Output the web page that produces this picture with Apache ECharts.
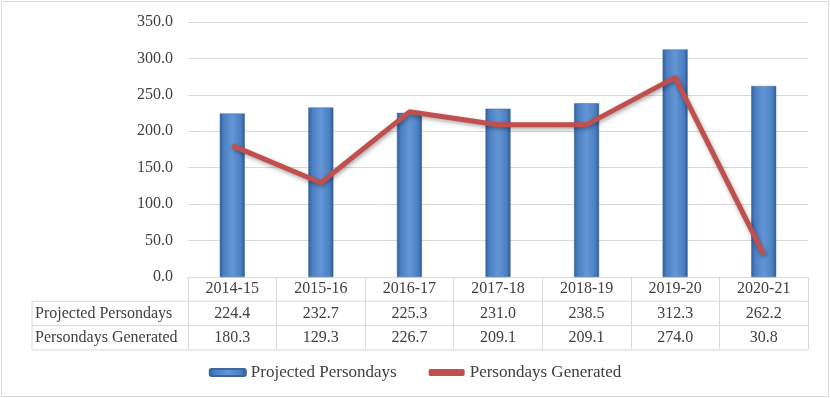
<!DOCTYPE html>
<html>
<head>
<meta charset="utf-8">
<script src="https://cdn.jsdelivr.net/npm/echarts@6/dist/echarts.min.js"></script>
<style>
  html, body { margin: 0; padding: 0; background: #fff; }
  #main { width: 830px; height: 398px; }
</style>
</head>
<body>
<div id="main"></div>
<script>
var years = ['2014-15', '2015-16', '2016-17', '2017-18', '2018-19', '2019-20', '2020-21'];
var projected = [224.4, 232.7, 225.3, 231.0, 238.5, 312.3, 262.2];
var generated = [180.3, 129.3, 226.7, 209.1, 209.1, 274.0, 30.8];
var yTicks = [0, 350, 50];

var FONT = 'Liberation Serif';
var FS = 16;
var TXT = '#404040';
var LINE = '#d9d9d9';

// table geometry (left header col + three rows under the plot)
var gLeft = 188, gRight = 808, gBottom = 277;
var rowH = 24.3, tblLeft = 32;

var myChart = echarts.init(document.getElementById('main'));

var graphics = [{
    type: 'rect',
    shape: { x: 1.5, y: 1.5, width: 827, height: 395 },
    style: { fill: 'none', stroke: LINE, lineWidth: 1 }
}];
// horizontal rules of the table
for (var r = 1; r <= 3; r++) {
    graphics.push({
        type: 'line',
        shape: { x1: tblLeft, y1: gBottom + rowH * r, x2: gRight, y2: gBottom + rowH * r },
        style: { stroke: LINE, lineWidth: 1 }
    });
}
graphics.push({
    type: 'line',
    shape: { x1: tblLeft, y1: gBottom + rowH, x2: tblLeft, y2: gBottom + rowH * 3 },
    style: { stroke: LINE, lineWidth: 1 }
});
var rowNames = ['Projected Persondays', 'Persondays Generated'];
rowNames.forEach(function(n, i) {
    graphics.push({
        type: 'text',
        x: tblLeft + 3,
        y: gBottom + rowH * (i + 1.5),
        style: { text: n, fontFamily: FONT, fontSize: FS, fill: TXT, verticalAlign: 'middle' }
    });
});

myChart.setOption({
    animation: false,
    textStyle: { fontFamily: FONT },
    grid: {
        left: gLeft,
        right: 830 - gRight,
        top: 22,
        bottom: 398 - gBottom
    },
    legend: {
        bottom: 12,
        left: 'center',
        itemGap: 32,
        itemWidth: 36,
        itemHeight: 7,
        textStyle: { fontFamily: FONT, fontSize: 17, color: TXT },
        data: [
            { name: 'Projected Persondays' },
            { name: 'Persondays Generated', icon: 'roundRect', itemStyle: { color: '#c0504d' } }
        ]
    },
    xAxis: {
        type: 'category',
        data: years,
        axisLine: { lineStyle: { color: LINE } },
        axisTick: { show: true, length: rowH * 3, lineStyle: { color: LINE } },
        axisLabel: {
            margin: 0,
            interval: 0,
            color: TXT,
            fontFamily: FONT,
            fontSize: FS,
            lineHeight: rowH,
            formatter: function(v, i) {
                return v + '\n' + projected[i].toFixed(1) + '\n' + generated[i].toFixed(1);
            }
        }
    },
    yAxis: {
        type: 'value',
        min: yTicks[0],
        max: yTicks[1],
        interval: yTicks[2],
        axisLine: { show: false },
        axisTick: { show: false },
        splitLine: { lineStyle: { color: LINE } },
        axisLabel: {
            margin: 15,
            color: TXT,
            fontFamily: FONT,
            fontSize: FS,
            formatter: function(v) { return v.toFixed(1); }
        }
    },
    series: [{
        name: 'Projected Persondays',
        type: 'bar',
        barWidth: 25,
        data: projected,
        itemStyle: {
            color: new echarts.graphic.LinearGradient(0, 0, 1, 0, [
                { offset: 0, color: '#2f5d99' },
                { offset: 0.15, color: '#4a7fc1' },
                { offset: 0.5, color: '#6496d6' },
                { offset: 0.85, color: '#4a7fc1' },
                { offset: 1, color: '#2c5790' }
            ]),
            borderColor: '#3a679f',
            borderWidth: 0.5
        }
    }, {
        name: 'Persondays Generated',
        type: 'line',
        data: generated,
        symbol: 'none',
        lineStyle: {
            color: '#c0504d',
            width: 5,
            shadowColor: 'rgba(0,0,0,0.35)',
            shadowBlur: 4,
            shadowOffsetX: 1,
            shadowOffsetY: 2
        },
        itemStyle: { color: '#c0504d' }
    }],
    graphic: graphics
});
</script>
</body>
</html>
